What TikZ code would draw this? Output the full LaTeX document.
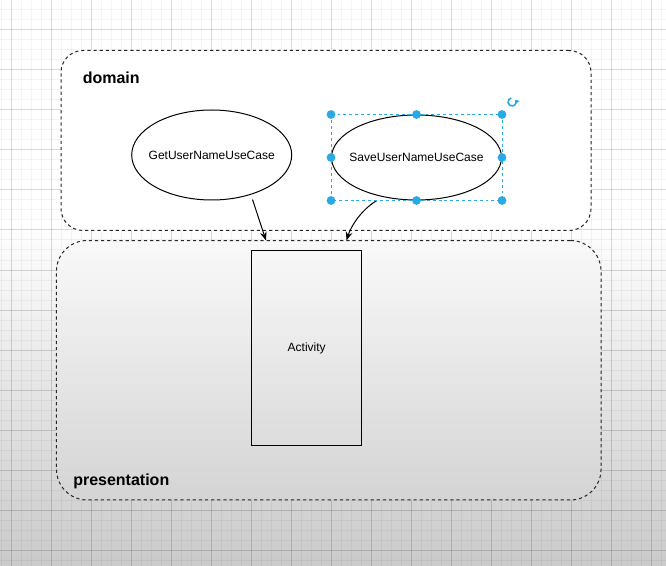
\documentclass[tikz,border=0pt]{standalone}
\usepackage{fontspec}
\setmainfont{Liberation Sans}
\usetikzlibrary{shapes.geometric,arrows.meta}
\definecolor{selblue}{RGB}{41,170,230}
\definecolor{bgbot}{RGB}{202,202,202}
\definecolor{prestop}{RGB}{249,249,249}
\definecolor{presbot}{RGB}{212,212,212}
\begin{document}
\begin{tikzpicture}[x=0.75pt,y=-0.75pt,
  minorline/.style={draw=black,draw opacity=0.045,line width=0.75pt},
  majorline/.style={draw=black,draw opacity=0.11,line width=0.75pt},
  groupbox/.style={draw=black!85,line width=0.75pt,dash pattern=on 2.4pt off 2.2pt,inner sep=0pt},
  grouplabel/.style={font=\fontsize{12}{14}\selectfont\bfseries,inner sep=0pt},
  usecase/.style={ellipse,draw=black,line width=0.75pt,fill=white,inner sep=0pt,font=\fontsize{9}{11}\selectfont},
  screen/.style={rectangle,draw=black,line width=0.75pt,inner sep=0pt,font=\fontsize{9}{11}\selectfont},
  arr/.style={draw=black,line width=0.75pt,-{Stealth[length=6.5pt,width=5pt]}},
  handle/.style={circle,fill=selblue,inner sep=0pt,minimum size=6.6pt},
  selbox/.style={draw=selblue,line width=0.6pt,dash pattern=on 2.2pt off 2.2pt}]
\useasboundingbox (0,0) rectangle (666,566);
% background
\fill[white] (0,0) rectangle (666,221);
\shade[top color=white,bottom color=bgbot] (0,220) rectangle (666,566);
\foreach \x in {1.7,11.7,...,665}{\draw[minorline] (\x,0) -- (\x,566);}
\foreach \y in {0,10,...,566}{\draw[minorline] (0,\y) -- (666,\y);}
\foreach \x in {11.7,51.7,...,665}{\draw[majorline] (\x,0) -- (\x,566);}
\foreach \y in {30,70,...,566}{\draw[majorline] (0,\y) -- (666,\y);}
% groups
\node[groupbox,fill=white,rounded corners=16.5pt,minimum width=397.5pt,minimum height=135pt] (domain) at (326,140.5) {};
\node[groupbox,top color=prestop,bottom color=presbot,rounded corners=23pt,minimum width=408.4pt,minimum height=194.6pt] (pres) at (328.75,370.25) {};
\node[grouplabel,anchor=base west] (domainlbl) at (82.5,84) {domain};
\node[grouplabel,anchor=base west] (preslbl) at (73,485) {presentation};
% use cases
\node[usecase,minimum width=120pt,minimum height=67.5pt] (get) at (211.7,155) {\makebox[0pt]{GetUserNameUseCase}};
\node[usecase,minimum width=127.5pt,minimum height=63.75pt] (save) at (416.5,157.5) {\makebox[0pt]{SaveUserNameUseCase}};
% activity
\node[screen,minimum width=82.5pt,minimum height=145.7pt] (act) at (306.7,347.9) {Activity};
% connectors
\coordinate (g1) at (252.5,199.5);
\coordinate (t1) at (266,240.5);
\coordinate (s1) at (377,200.5);
\coordinate (t2) at (346.5,240.5);
\draw[arr] (g1) -- (t1);
\draw[arr] (s1) .. controls (362,209) and (351,226) .. (t2);
% selection of SaveUserNameUseCase
\draw[selbox] (save.west |- save.north) rectangle (save.east |- save.south);
\node[handle] (h1) at (save.west |- save.north) {};
\node[handle] (h2) at (save.north) {};
\node[handle] (h3) at (save.east |- save.north) {};
\node[handle] (h4) at (save.west) {};
\node[handle] (h5) at (save.east) {};
\node[handle] (h6) at (save.west |- save.south) {};
\node[handle] (h7) at (save.south) {};
\node[handle] (h8) at (save.east |- save.south) {};
\coordinate (rot) at (512,102);
\draw[selblue,line width=1.2pt,-{Triangle[length=2.6pt,width=4pt]}] (rot) ++(-100:4) arc[start angle=-100,end angle=-395,radius=4];
\end{tikzpicture}
\end{document}
